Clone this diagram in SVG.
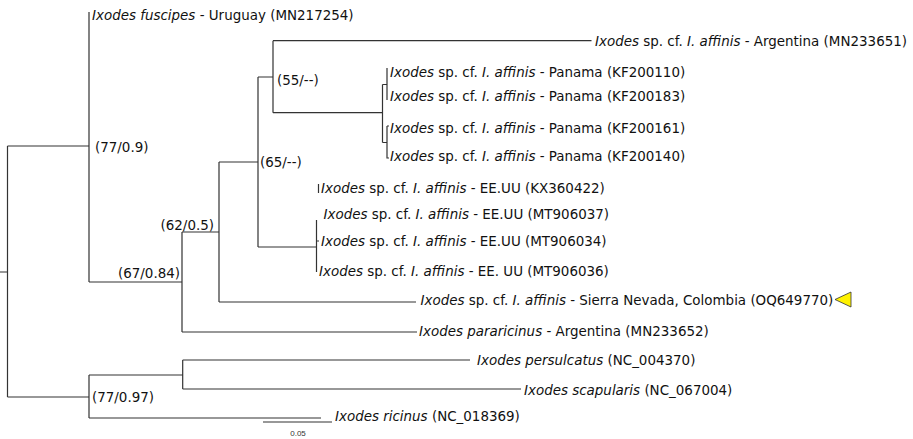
<svg xmlns="http://www.w3.org/2000/svg" width="913" height="439" viewBox="0 0 913 439">
<style>
.t{font-family:"DejaVu Sans",Verdana,sans-serif;font-size:13.45px;fill:#111}
.i{font-style:italic}
.b{fill:none;stroke:#333;stroke-width:1.2}
.sc{font-family:"Liberation Sans",Arial,sans-serif;font-size:8px;fill:#333}
</style>
<rect width="913" height="439" fill="#fff"/>
<g id="connectors" class="b">
<path d="M0,272H7.5M7.5,146V397M7.5,146H89M7.5,397H89"/>
<path d="M89,12V282M89,282H182"/>
<path d="M182,232V332M182,232H219M182,332H417"/>
<path d="M219,162V302M219,162H258M219,302H416"/>
<path d="M258,77V247M258,77H273M258,247H316.5"/>
<path d="M273,40.7V112.7M273,40.7H591.5M273,112.7H382.5"/>
<path d="M382.5,84.5V142.5M382.5,84.5H387M382.5,142.5H387"/>
<path d="M387,68V100M387,126H389M387,126V158H389"/>
<path d="M318.5,184V193M316.5,220V272M316.5,241H319"/>
<path d="M89,375V418M89,375H182.7M182.7,360V389M182.7,360H470M182.7,389H521M89,418H321"/>
</g>
<g id="n-fuscipes"><text class="t" x="92" y="20"><tspan class="i">Ixodes fuscipes</tspan> - Uruguay (MN217254)</text></g>
<g id="n-MN233651"><text class="t" x="595" y="45.5"><tspan class="i">Ixodes</tspan> sp. cf. <tspan class="i">I. affinis</tspan> - Argentina (MN233651)</text></g>
<g id="n-KF200110"><text class="t" x="390" y="77"><tspan class="i">Ixodes</tspan> sp. cf. <tspan class="i">I. affinis</tspan> - Panama (KF200110)</text></g>
<g id="n-KF200183"><text class="t" x="390" y="101"><tspan class="i">Ixodes</tspan> sp. cf. <tspan class="i">I. affinis</tspan> - Panama (KF200183)</text></g>
<g id="n-KF200161"><text class="t" x="390" y="133"><tspan class="i">Ixodes</tspan> sp. cf. <tspan class="i">I. affinis</tspan> - Panama (KF200161)</text></g>
<g id="n-KF200140"><text class="t" x="390" y="161"><tspan class="i">Ixodes</tspan> sp. cf. <tspan class="i">I. affinis</tspan> - Panama (KF200140)</text></g>
<g id="n-KX360422"><text class="t" x="321" y="193"><tspan class="i">Ixodes</tspan> sp. cf. <tspan class="i">I. affinis</tspan> - EE.UU (KX360422)</text></g>
<g id="n-MT906037"><text class="t" x="323.5" y="219"><tspan class="i">Ixodes</tspan> sp. cf. <tspan class="i">I. affinis</tspan> - EE.UU (MT906037)</text></g>
<g id="n-MT906034"><text class="t" x="321" y="246"><tspan class="i">Ixodes</tspan> sp. cf. <tspan class="i">I. affinis</tspan> - EE.UU (MT906034)</text></g>
<g id="n-MT906036"><text class="t" x="319" y="276"><tspan class="i">Ixodes</tspan> sp. cf. <tspan class="i">I. affinis</tspan> - EE. UU (MT906036)</text></g>
<g id="n-OQ649770"><text class="t" x="420.5" y="305"><tspan class="i">Ixodes</tspan> sp. cf. <tspan class="i">I. affinis</tspan> - Sierra Nevada, Colombia (OQ649770)</text>
<polygon points="835,299.5 851,292 851,307" fill="#fff200" stroke="#333" stroke-width="0.8"/></g>
<g id="n-MN233652"><text class="t" x="419" y="336"><tspan class="i">Ixodes pararicinus</tspan> - Argentina (MN233652)</text></g>
<g id="n-persulcatus"><text class="t" x="477" y="365"><tspan class="i">Ixodes persulcatus</tspan> (NC_004370)</text></g>
<g id="n-scapularis"><text class="t" x="524" y="395"><tspan class="i">Ixodes scapularis</tspan> (NC_067004)</text></g>
<g id="n-ricinus"><text class="t" x="335" y="421"><tspan class="i">Ixodes ricinus</tspan> (NC_018369)</text></g>
<g id="support">
<text class="t" x="277" y="85">(55/--)</text>
<text class="t" x="95" y="152">(77/0.9)</text>
<text class="t" x="260" y="167">(65/--)</text>
<text class="t" x="214" y="230" text-anchor="end">(62/0.5)</text>
<text class="t" x="180" y="278" text-anchor="end">(67/0.84)</text>
<text class="t" x="92" y="402">(77/0.97)</text>
</g>
<g id="scalebar">
<path class="b" d="M263,422H332"/>
<text class="sc" x="298" y="436" text-anchor="middle">0.05</text>
</g>
</svg>
